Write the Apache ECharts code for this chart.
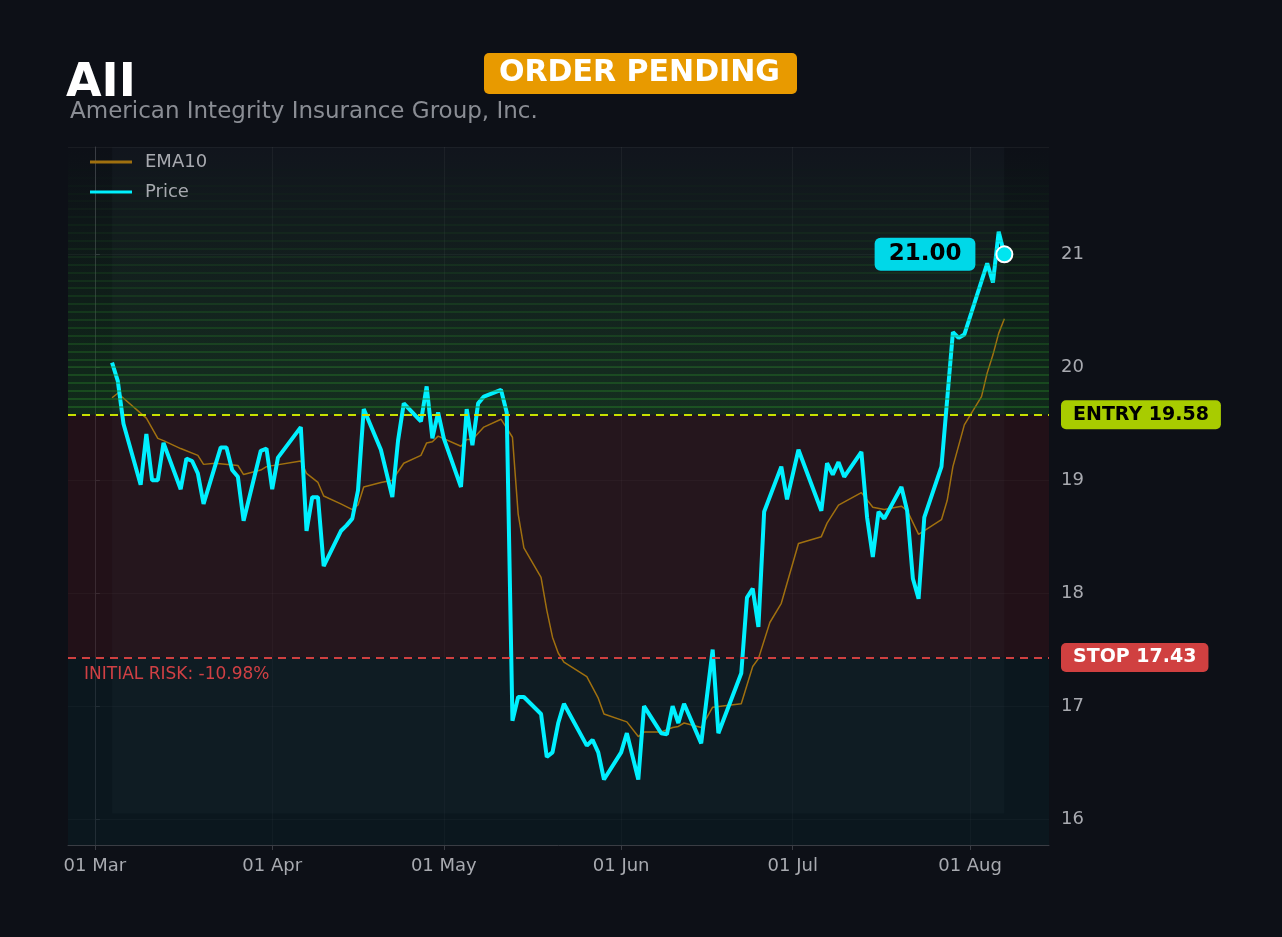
<!DOCTYPE html>
<html>
<head>
<meta charset="utf-8">
<script src="https://cdn.jsdelivr.net/npm/echarts@6/dist/echarts.min.js"></script>
<style>
  html,body{margin:0;padding:0;background:#0d1017;}
  #main{width:1282px;height:937px;}
</style>
</head>
<body>
<div id="main"></div>
<script>
// days counted from 01 Mar
var priceDays=[3,4,5,8,9,10,11,12,15,16,17,18,19,22,23,24,25,26,29,30,31,32,36,37,38,39,40,43,44,45,46,47,50,52,53,54,57,58,59,60,61,64,65,66,67,68,71,72,73,74,75,78,79,80,81,82,86,87,88,89,92,93,95,96,99,100,101,102,103,106,108,109,113,114,115,116,117,120,121,123,127,128,129,130,131,134,135,136,137,138,141,142,143,144,145,148,150,151,152,156,157,158,159];
var priceVals=[20.04,19.88,19.5,18.96,19.41,19.0,19.0,19.33,18.92,19.19,19.17,19.06,18.79,19.29,19.29,19.09,19.03,18.64,19.26,19.28,18.92,19.2,19.47,18.55,18.85,18.85,18.24,18.55,18.6,18.66,18.91,19.63,19.27,18.85,19.35,19.68,19.52,19.83,19.37,19.6,19.37,18.94,19.63,19.31,19.68,19.74,19.8,19.6,16.87,17.08,17.08,16.93,16.55,16.59,16.85,17.02,16.65,16.7,16.59,16.35,16.59,16.76,16.35,17.0,16.76,16.75,17.0,16.85,17.02,16.67,17.5,16.76,17.29,17.96,18.04,17.7,18.72,19.12,18.83,19.27,18.73,19.15,19.05,19.16,19.03,19.25,18.67,18.32,18.72,18.66,18.94,18.73,18.13,17.95,18.67,19.12,20.31,20.26,20.29,20.92,20.75,21.2,21.0];
var emaDays=[3,4,9,11,12,15,18,19,21,25,26,29,30,36,37,39,40,43,45,46,47,50,52,54,57,58,59,60,64,65,66,68,71,73,74,75,78,79,80,81,82,86,88,89,93,95,96,99,101,102,103,106,108,113,115,116,118,120,123,127,128,130,134,136,138,141,142,144,148,149,150,152,155,156,157,158,159];
var emaVals=[19.73,19.77,19.55,19.37,19.35,19.28,19.22,19.14,19.15,19.13,19.05,19.09,19.12,19.17,19.06,18.98,18.86,18.79,18.74,18.78,18.94,18.98,19.0,19.15,19.22,19.33,19.34,19.39,19.3,19.36,19.36,19.47,19.54,19.38,18.7,18.4,18.14,17.85,17.61,17.47,17.39,17.26,17.07,16.93,16.86,16.73,16.77,16.77,16.81,16.82,16.85,16.81,16.99,17.02,17.35,17.42,17.74,17.91,18.44,18.5,18.62,18.78,18.89,18.76,18.74,18.77,18.73,18.52,18.65,18.82,19.12,19.49,19.74,19.95,20.11,20.3,20.43];
var tickDays=[0,31,61,92,122,153];
var tickLabels=['01 Mar','01 Apr','01 May','01 Jun','01 Jul','01 Aug'];
var entry=19.58, stop=17.43, last=21.00;
var yMin=15.77, yMax=21.95, xMin=-4.7, xMax=166.8;

function pairs(d,v){ return d.map(function(x,i){ return [x,v[i]]; }); }

var stripes=[];
for(var s=entry+0.07;s<yMax-0.15;s+=0.07){
  var a=0.6*Math.pow(1-(s-entry)/(yMax-entry),1.3);
  stripes.push({yAxis:s,lineStyle:{color:'rgba(40,130,40,'+a.toFixed(2)+')',width:1.5,type:'solid'}});
}

var myChart=echarts.init(document.getElementById('main'));
var option={
  backgroundColor:'#0d1017',
  animation:false,
  title:[
    {text:'AII',left:61,top:56,textStyle:{color:'#ffffff',fontSize:46,fontWeight:'bold',fontFamily:'DejaVu Sans'}},
    {text:'American Integrity Insurance Group, Inc.',left:65,top:96,textStyle:{color:'#8a8d94',fontSize:23,fontWeight:'normal',fontFamily:'DejaVu Sans'}}
  ],
  graphic:[
    {type:'rect',left:484,top:53,z:100,shape:{width:313,height:41,r:5},style:{fill:'#e89a00'}},
    {type:'text',left:499,top:58,z:101,style:{text:'ORDER PENDING',fill:'#ffffff',font:'bold 30px DejaVu Sans'}},
    {type:'text',left:84,top:666,z:100,style:{text:'INITIAL RISK: -10.98%',fill:'#d04044',font:'17px DejaVu Sans'}}
  ],
  legend:{
    left:85,top:148,orient:'vertical',itemGap:12,itemWidth:42,itemHeight:3,
    textStyle:{color:'#a8aab0',fontSize:18,fontFamily:'DejaVu Sans',padding:[0,0,0,8]},
    data:[{name:'EMA10',icon:'rect',itemStyle:{color:'#a0700f'}},{name:'Price',icon:'rect',itemStyle:{color:'#00f0ff'}}]
  },
  grid:{left:68,right:233,top:147,bottom:92},
  xAxis:{
    type:'value',min:xMin,max:xMax,
    axisLine:{show:true,lineStyle:{color:'#3a3d44'}},
    axisTick:{show:true,customValues:tickDays,lineStyle:{color:'#3a3d44'}},
    axisLabel:{customValues:tickDays,color:'#a8aab0',fontSize:18,margin:12,fontFamily:'DejaVu Sans',
      formatter:function(v){ var i=tickDays.indexOf(v); return i>=0?tickLabels[i]:''; }},
    splitLine:{show:true,lineStyle:{color:'rgba(255,255,255,0.05)'}}
  },
  yAxis:{
    type:'value',position:'right',min:yMin,max:yMax,
    axisLine:{show:true,lineStyle:{color:'#3a3d44'}},
    axisTick:{show:true,lineStyle:{color:'#3a3d44'}},
    axisLabel:{color:'#a8aab0',fontSize:18,margin:12,showMinLabel:false,showMaxLabel:false,fontFamily:'DejaVu Sans'},
    splitLine:{show:true,lineStyle:{color:'rgba(255,255,255,0.05)'}}
  },
  series:[
    {
      type:'line',name:'zones',data:[],silent:true,
      markArea:{silent:true,data:[
        [{yAxis:entry,xAxis:xMin,itemStyle:{color:new echarts.graphic.LinearGradient(0,0,0,1,[{offset:0,color:'rgba(20,60,30,0.0)'},{offset:1,color:'rgba(20,70,30,0.5)'}])}},{yAxis:yMax,xAxis:xMax}],
        [{yAxis:stop,xAxis:xMin,itemStyle:{color:'rgba(60,20,26,0.45)'}},{yAxis:entry,xAxis:xMax}],
        [{yAxis:yMin,xAxis:xMin,itemStyle:{color:'rgba(10,30,38,0.5)'}},{yAxis:stop,xAxis:xMax}]
      ]},
      markLine:{silent:true,symbol:'none',label:{show:false},data:stripes}
    },
    {
      type:'line',name:'overlay',data:[],silent:true,
      markArea:{silent:true,data:[
        [{xAxis:priceDays[0],yAxis:16.05,itemStyle:{color:'rgba(120,150,170,0.045)'}},{xAxis:priceDays[priceDays.length-1],yAxis:yMax}]
      ]},
      markLine:{silent:true,symbol:'none',data:[
        {yAxis:entry,lineStyle:{color:'#c8e000',type:[8,6],width:2},
          label:{show:true,position:'end',distance:12,formatter:'ENTRY 19.58',color:'#000',fontWeight:'bold',fontSize:19,
            backgroundColor:'#a8cc00',padding:[5,12,5,12],borderRadius:5,fontFamily:'DejaVu Sans'}},
        {yAxis:stop,lineStyle:{color:'#d04040',type:[8,6],width:2},
          label:{show:true,position:'end',distance:12,formatter:'STOP 17.43',color:'#fff',fontWeight:'bold',fontSize:19,
            backgroundColor:'#d04040',padding:[5,12,5,12],borderRadius:5,fontFamily:'DejaVu Sans'}}
      ]}
    },
    {
      type:'line',name:'EMA10',data:pairs(emaDays,emaVals),showSymbol:false,
      lineStyle:{color:'#a0700f',width:1.5},itemStyle:{color:'#a0700f'},z:3
    },
    {
      type:'line',name:'Price',data:pairs(priceDays,priceVals),showSymbol:false,
      lineStyle:{color:'#00f0ff',width:4},itemStyle:{color:'#00f0ff'},z:4,
      markPoint:{
        symbol:'circle',symbolSize:16,
        itemStyle:{color:'#00e5f0',borderColor:'#ffffff',borderWidth:2},
        label:{show:true,position:'left',distance:20,formatter:'21.00',color:'#000',fontWeight:'bold',fontSize:23,
          backgroundColor:'#00d8e8',padding:[5,14,5,14],borderRadius:6,fontFamily:'DejaVu Sans'},
        data:[{coord:[priceDays[priceDays.length-1],last]}]
      }
    }
  ]
};
myChart.setOption(option);
</script>
</body>
</html>
